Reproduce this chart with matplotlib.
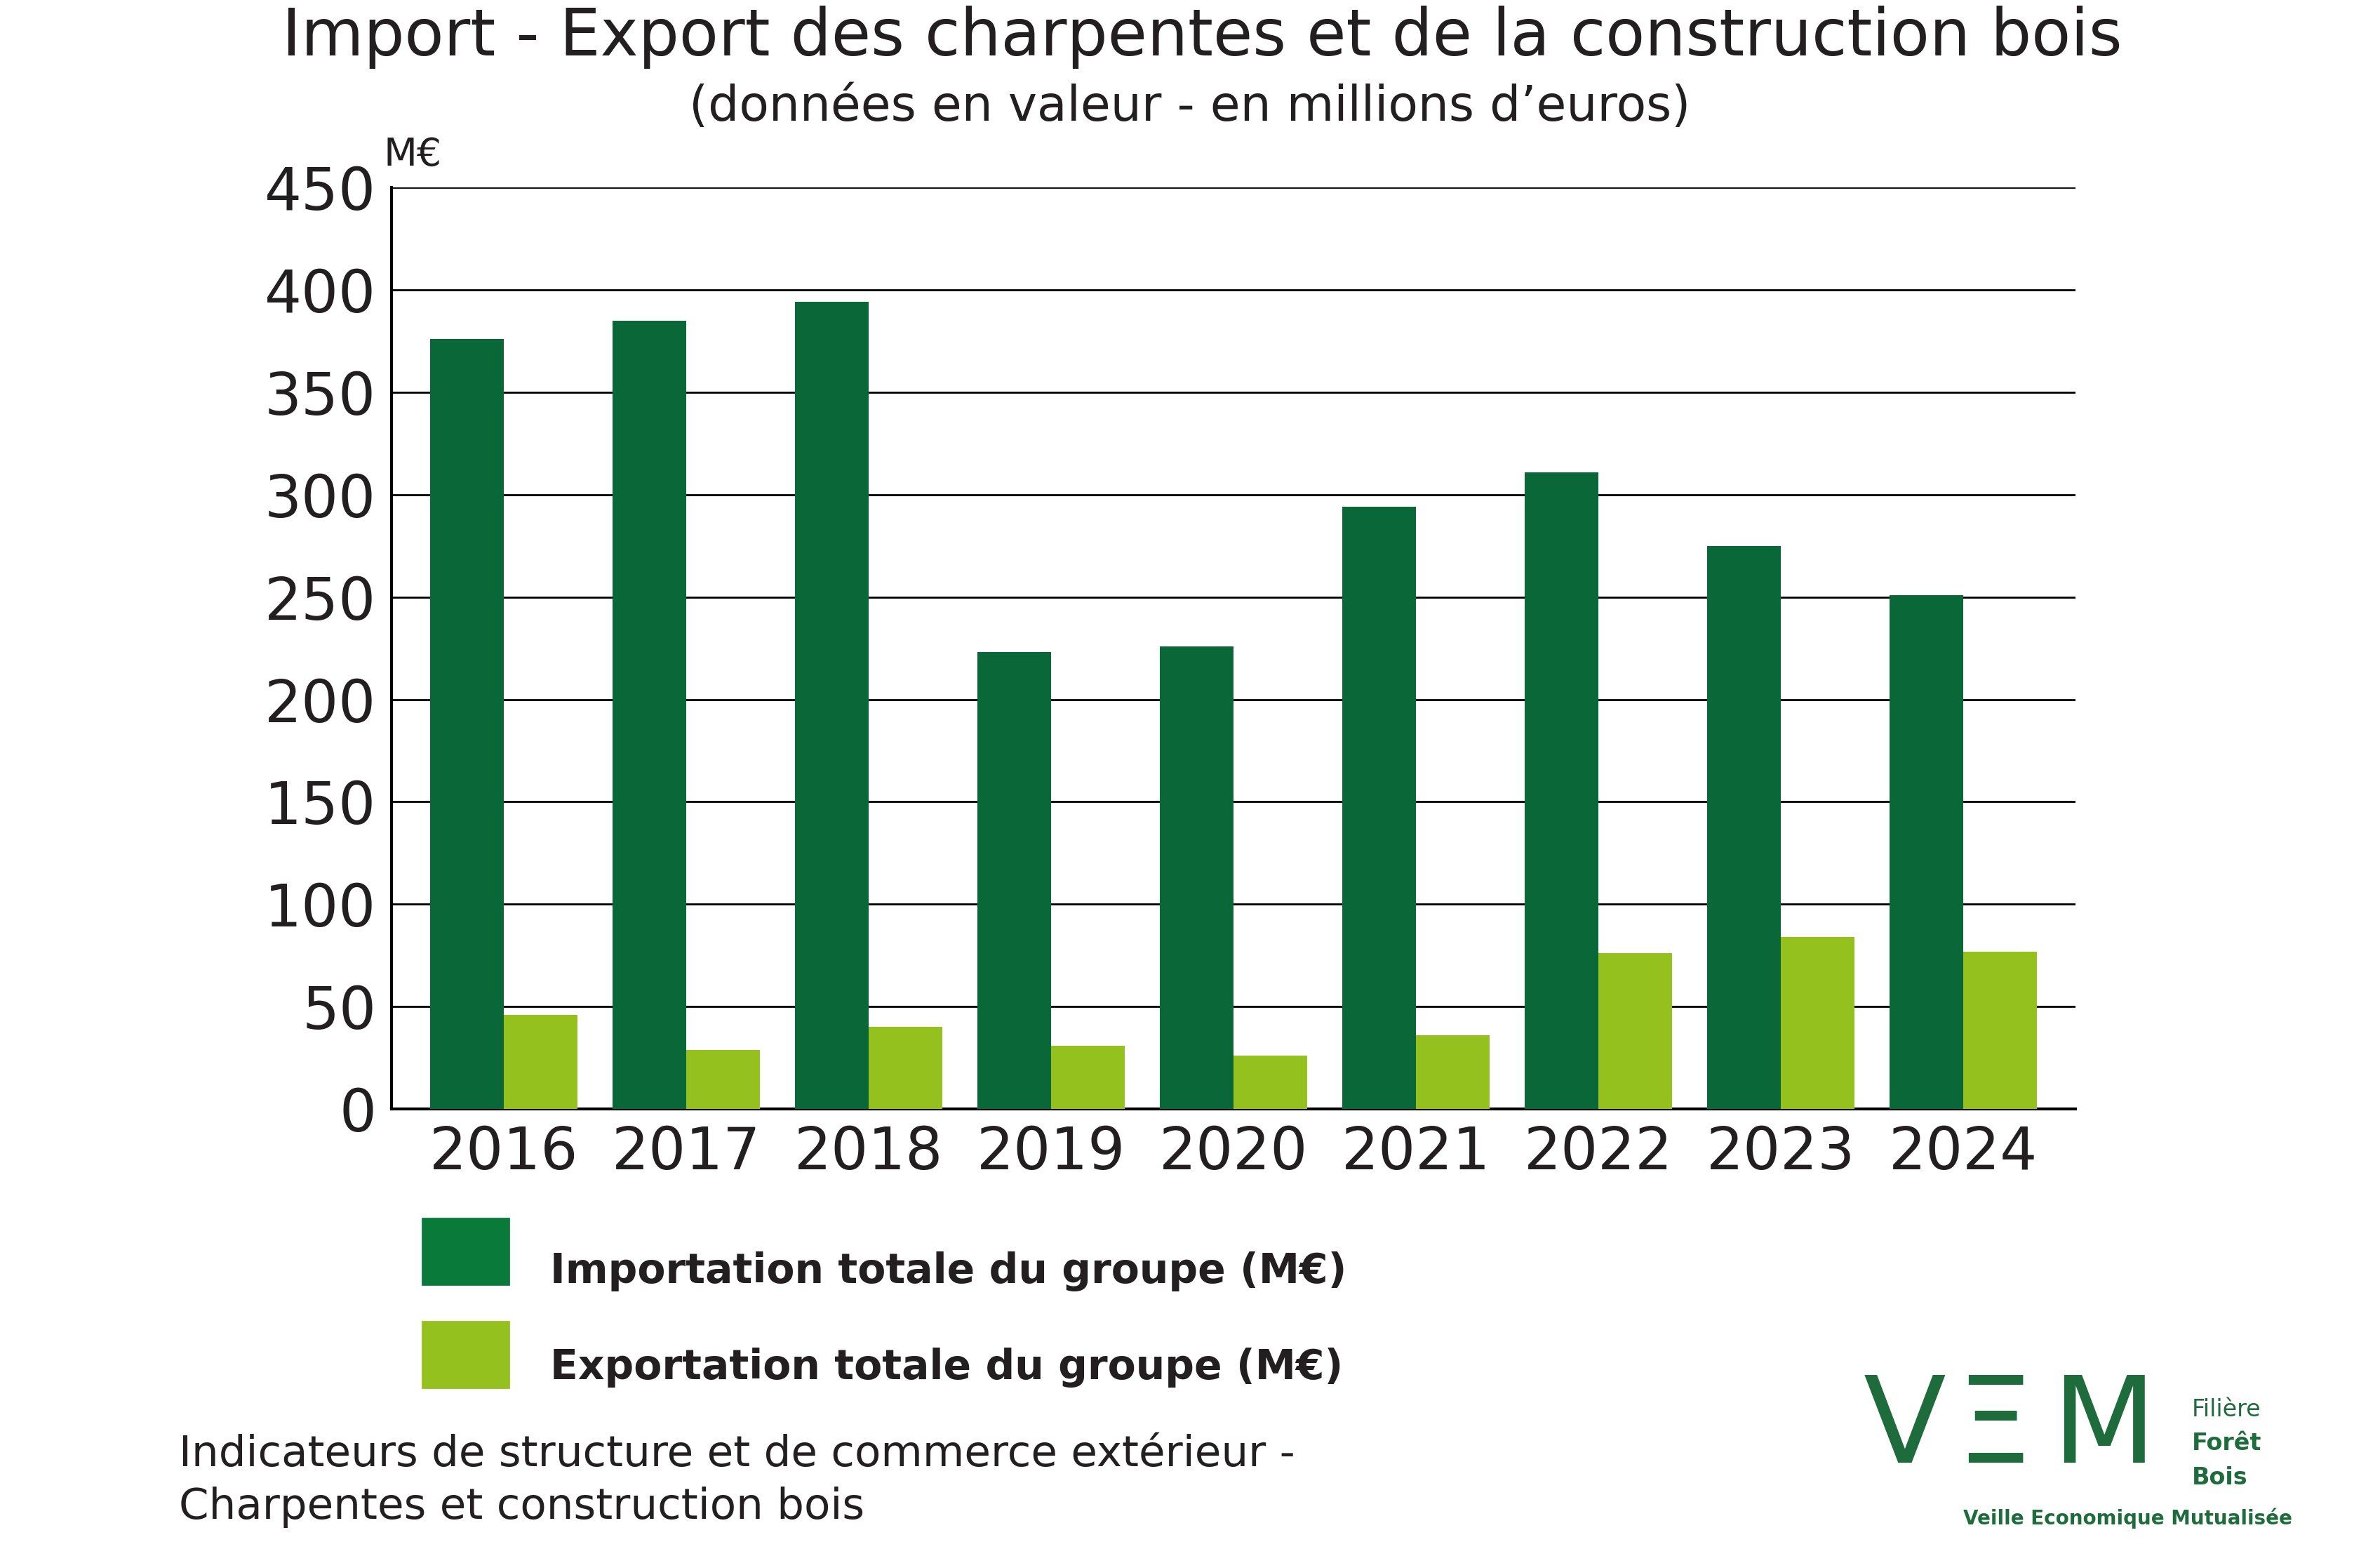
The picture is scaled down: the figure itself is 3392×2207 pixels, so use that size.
import matplotlib
matplotlib.use("Agg")
import matplotlib.pyplot as plt
import numpy as np
from matplotlib.patches import Rectangle

years = ["2016","2017","2018","2019","2020","2021","2022","2023","2024"]
imports = [376, 385, 394, 223, 226, 294, 311, 275, 251]
exports = [46, 29, 40, 31, 26, 36, 76, 84, 77]
yticks = [0,50,100,150,200,250,300,350,400,450]

dark = "#0a6737"
light = "#95c11f"
txt = "#231f20"
plt.rcParams['font.family'] = ['DejaVu Sans']

fig = plt.figure(figsize=(16.96, 11.035), dpi=200)
ax = fig.add_axes([0.1646, 0.284, 0.7074, 0.595])
x = np.arange(len(years))
w = 0.405
ax.bar(x - w/2, imports, w, color=dark, zorder=3)
ax.bar(x + w/2, exports, w, color=light, zorder=3)
ax.set_xlim(-0.615, 8.615)
ax.set_ylim(0, 450)
ax.set_yticks(yticks)
ax.set_yticklabels([str(v) for v in yticks], fontsize=30, color=txt)
ax.set_xticks(x)
ax.set_xticklabels(years, fontsize=30, color=txt)
ax.tick_params(length=0, pad=8)
ax.yaxis.grid(True, color="black", linewidth=1.0, zorder=0)
for s in ["top", "right"]:
    ax.spines[s].set_visible(False)
ax.spines["left"].set_linewidth(1.5)
ax.spines["bottom"].set_linewidth(1.5)
ax.text(-0.005, 1.015, "M€", transform=ax.transAxes, fontsize=20, color=txt, ha="left", va="bottom")

fig.text(0.505, 0.976, "Import - Export des charpentes et de la construction bois", ha="center", va="center", fontsize=33, color=txt)
fig.text(0.500, 0.931, "(données en valeur - en millions d’euros)", ha="center", va="center", fontsize=25, color=txt)

# legend
fig.patches.append(Rectangle((0.1774, 0.1706), 0.0364, 0.043, transform=fig.transFigure, color="#0a7a3a"))
fig.patches.append(Rectangle((0.1774, 0.104), 0.0364, 0.043, transform=fig.transFigure, color=light))
fig.text(0.231, 0.179, "Importation totale du groupe (M€)", fontsize=21, fontweight="bold", color=txt, va="center")
fig.text(0.231, 0.117, "Exportation totale du groupe (M€)", fontsize=21, fontweight="bold", color=txt, va="center")

fig.text(0.0753, 0.061, "Indicateurs de structure et de commerce extérieur -", fontsize=22, color=txt, va="center")
fig.text(0.0753, 0.027, "Charpentes et construction bois", fontsize=22, color=txt, va="center")

# logo
g = "#1e6b3c"
fig.text(0.783, 0.077, "V", fontsize=62, color=g, va="center", ha="left")
fig.text(0.822, 0.077, "Ξ", fontsize=62, color=g, va="center", ha="left")
fig.text(0.862, 0.077, "M", fontsize=62, color=g, va="center", ha="left")
fig.text(0.921, 0.090, "Filière", fontsize=12, color=g, va="center")
fig.text(0.921, 0.068, "Forêt", fontsize=12, color=g, va="center", fontweight="bold")
fig.text(0.921, 0.046, "Bois", fontsize=12, color=g, va="center", fontweight="bold")
fig.text(0.825, 0.020, "Veille Economique Mutualisée", fontsize=10, color=g, va="center", fontweight="bold")

fig.savefig("out.png", dpi=200)
